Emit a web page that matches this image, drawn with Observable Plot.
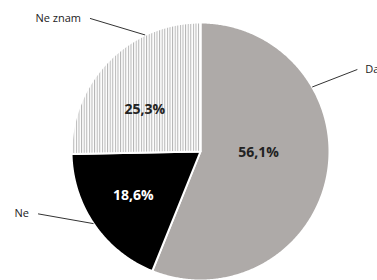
<!DOCTYPE html>
<html><head><meta charset="utf-8">
<script src="https://cdn.jsdelivr.net/npm/d3@7"></script>
<script src="https://cdn.jsdelivr.net/npm/@observablehq/plot@0.6"></script>
<style>html,body{margin:0;padding:0;background:#fff;overflow:hidden}</style>
</head><body><div id="chart"></div>
<script>
const categories = ["Da", "Ne", "Ne znam"];
const values = [56.1, 18.6, 25.3];
const valueLabels = ["56,1%", "18,6%", "25,3%"];
const sliceFills = ["#aeaaa8", "#000000", "url(#hatch)"];
const valueTextColors = ["#222222", "#ffffff", "#222222"];

// layout (not data)
const W = 377, H = 280, R = 129, CX = 200, CY = 151;
const leaderStartDeg = [60, 236, 334.6];
const leaderEndDeg = [62.4, 249, 320.3];
const leaderEndR = [177, 174, 173];
const valueLabelR = [0.45, 0.62, 0.54];
const valueLabelDeg = [91, 237, 307];

const rad = d => d * Math.PI / 180;
const pt = (deg, r) => [r * Math.sin(rad(deg)), r * Math.cos(rad(deg))];

const total = d3.sum(values);
let acc = 0;
const slices = values.map((v, i) => {
  const a0 = acc / total * 360; acc += v; const a1 = acc / total * 360;
  const ring = [[0, 0]];
  const n = Math.max(2, Math.ceil((a1 - a0) / 0.5));
  for (let k = 0; k <= n; k++) ring.push(pt(a0 + (a1 - a0) * k / n, R));
  ring.push([0, 0]);
  return {type: "Feature", properties: {name: categories[i], fill: sliceFills[i]}, geometry: {type: "Polygon", coordinates: [ring]}};
});

const valueText = values.map((v, i) => {
  const [x, y] = pt(valueLabelDeg[i], R * valueLabelR[i]);
  return {x, y, text: valueLabels[i], color: valueTextColors[i]};
});
const leaders = categories.map((c, i) => {
  const [x1, y1] = pt(leaderStartDeg[i], R);
  const [x2, y2] = pt(leaderEndDeg[i], leaderEndR[i]);
  return {x1, y1, x2, y2, name: c, right: x2 > 0};
});

const frame = {type: "MultiPoint", coordinates: [[-CX, -(H - CY)], [W - CX, CY]]};

const chart = Plot.plot({
  width: W, height: H, margin: 0,
  projection: {type: "reflect-y", domain: frame, inset: 0},
  style: {fontFamily: "'Open Sans', sans-serif", background: "#fff"},
  marks: [
    ...slices.map(s => Plot.geo([s], {fill: s.properties.fill, stroke: "white", strokeWidth: 2})),
    Plot.link(leaders, {x1: "x1", y1: "y1", x2: "x2", y2: "y2", stroke: "#333", strokeWidth: 1}),
    Plot.text(leaders.filter(d => d.right), {x: "x2", y: "y2", text: "name", textAnchor: "start", dx: 8, fontSize: 11, fill: "#222"}),
    Plot.text(leaders.filter(d => !d.right), {x: "x2", y: "y2", text: "name", textAnchor: "end", dx: -9, fontSize: 11, fill: "#222"}),
    Plot.text(valueText, {x: "x", y: "y", text: "text", fill: d => d.color, fontSize: 14, fontWeight: "bold"})
  ]
});

const ns = "http://www.w3.org/2000/svg";
const defs = document.createElementNS(ns, "defs");
defs.innerHTML = '<pattern id="hatch" patternUnits="userSpaceOnUse" width="2.6" height="4"><rect width="2.6" height="4" fill="#ffffff"/><rect x="0" width="1" height="4" fill="#b4b4b4"/></pattern>';
chart.insertBefore(defs, chart.firstChild);
document.getElementById("chart").appendChild(chart);
</script></body></html>
